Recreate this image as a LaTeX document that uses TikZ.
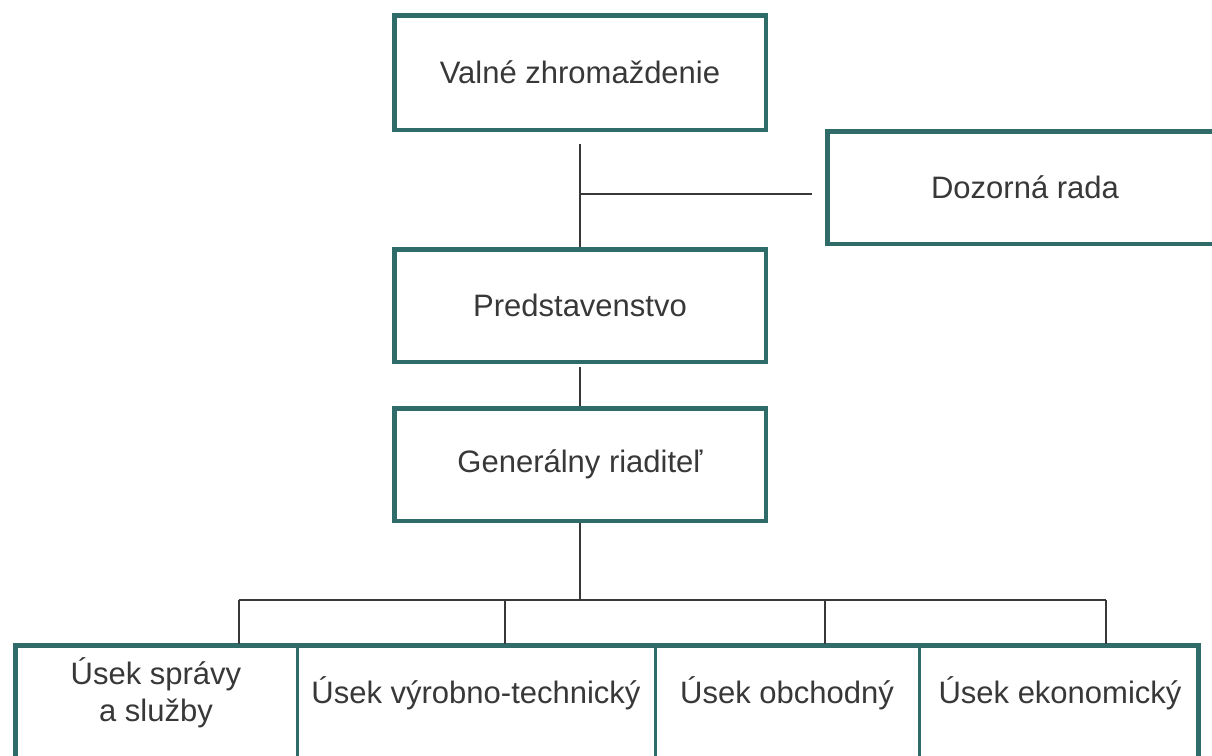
\documentclass[tikz,border=0pt]{standalone}
\usepackage{fontspec}
\setmainfont{Liberation Sans}
\definecolor{boxteal}{HTML}{2F6B68}
\definecolor{ink}{HTML}{383838}
\begin{document}
\begin{tikzpicture}[x=1pt,y=-1pt,
  box/.style={draw=boxteal, line width=4.5pt, fill=white, inner sep=0pt,
    text=ink, font=\fontsize{31}{37}\selectfont, align=center},
  cell/.style={draw=boxteal, line width=3pt, inner sep=0pt},
  celltext/.style={text=ink, font=\fontsize{31}{37}\selectfont, align=center, inner sep=0pt},
  link/.style={draw=ink, line width=1.8pt}]
\useasboundingbox (0,0) rectangle (1212,755);
\clip (0,0) rectangle (1212,755);
\fill[white] (0,0) rectangle (1212,755);

% upper boxes
\node[box, minimum width=371.5pt, minimum height=114.5pt] (vz) at (580,72.5) {Valné zhromaždenie};
\node[box, minimum width=395.5pt, minimum height=112.5pt] (dr) at (1025,187.5) {Dozorná rada};
\node[box, minimum width=371.5pt, minimum height=112.5pt] (pr) at (580,305.5) {Predstavenstvo};
\node[box, minimum width=371.5pt, minimum height=112.5pt] (gr) at (580,464.5) {Generálny riaditeľ};

% bottom cells
\node[cell, minimum width=281.5pt, minimum height=154.5pt] (c1) at (156.25,722.75) {};
\node[cell, minimum width=358pt, minimum height=154.5pt] (c2) at (476,722.75) {};
\node[cell, minimum width=264pt, minimum height=154.5pt] (c3) at (787,722.75) {};
\node[cell, minimum width=279.5pt, minimum height=154.5pt] (c4) at (1058.75,722.75) {};
\draw[boxteal, line width=5pt] (15.5,645.5) rectangle (1198.5,800);

\node[celltext] (t1) at (156,693) {Úsek správy\\a služby};
\node[celltext] (t2) at (476,693) {Úsek výrobno-technický};
\node[celltext] (t3) at (787,693) {Úsek obchodný};
\node[celltext] (t4) at (1060,693) {Úsek ekonomický};

% connectors
\coordinate (j) at (580,194);
\draw[link, shorten <=12pt] (vz) -- (pr);
\draw[link, shorten >=13pt] (j) -- (j -| dr.west);
\draw[link, shorten <=3pt] (pr) -- (gr);

\coordinate (bus) at (580,600);
\coordinate (b1) at (239,600);
\coordinate (b2) at (505,600);
\coordinate (b3) at (825,600);
\coordinate (b4) at (1106,600);
\draw[link] (gr) -- (bus);
\draw[link] (b1) -- (b4);
\draw[link] (b1) -- (b1 |- c1.north);
\draw[link] (b2) -- (b2 |- c2.north);
\draw[link] (b3) -- (b3 |- c3.north);
\draw[link] (b4) -- (b4 |- c4.north);
\end{tikzpicture}
\end{document}
